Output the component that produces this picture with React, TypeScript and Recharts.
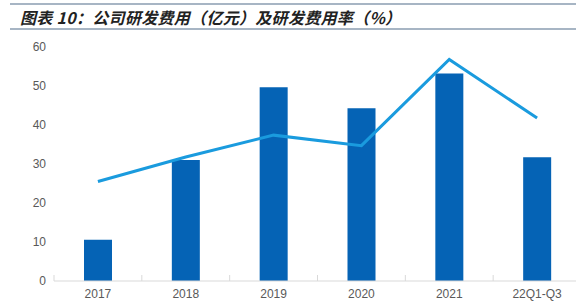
import { ComposedChart, Bar, Line, XAxis, YAxis } from "recharts";

const categories = ["2017", "2018", "2019", "2020", "2021", "22Q1-Q3"];
const rdExpense = [10.6, 31.0, 49.7, 44.3, 53.2, 31.7];
const rdRatio = [25.5, 31.8, 37.4, 34.7, 56.8, 41.8];
const yTicks = [0, 10, 20, 30, 40, 50, 60];

const data = categories.map((label, i) => ({
  label,
  expense: rdExpense[i],
  ratio: rdRatio[i],
}));

const TICK_GAP = 8;

// label plus the short separator ticks at the category boundaries
const CategoryTick = (props: any) => {
  const { x, y, payload, index } = props;
  const half = payload.offset || 0;
  const axisY = y - TICK_GAP;
  const isLast = index === categories.length - 1;
  return (
    <g>
      <line x1={x - half} x2={x - half} y1={axisY} y2={axisY - 6} stroke="#D9D9D9" />
      {isLast && <line x1={x + half} x2={x + half} y1={axisY} y2={axisY - 6} stroke="#D9D9D9" />}
      <text
        x={x}
        y={y}
        dy="0.71em"
        textAnchor="middle"
        fill="#595959"
        fontSize={12}
        fontFamily="'Liberation Sans', Arial, sans-serif"
      >
        {payload.value}
      </text>
    </g>
  );
};

const App = () => {
  return (
    <div style={{ position: "absolute", left: 0, top: 0, width: 576, height: 302, background: "#fff" }}>
      <ComposedChart
        width={576}
        height={302}
        data={data}
        margin={{ top: 47, right: -5, left: 0, bottom: 0 }}
        style={{ position: "absolute", left: 0, top: 0 }}
      >
        <XAxis
          dataKey="label"
          height={21}
          axisLine={{ stroke: "#D9D9D9" }}
          tickLine={false}
          tickSize={0}
          tickMargin={TICK_GAP}
          interval={0}
          tick={<CategoryTick />}
        />
        <YAxis
          width={54}
          domain={[0, 60]}
          ticks={yTicks}
          axisLine={false}
          tickLine={false}
          tick={{ fill: "#595959", fontSize: 12, fontFamily: "'Liberation Sans', Arial, sans-serif" }}
        />
        <Bar dataKey="expense" fill="#0563B5" barSize={28} isAnimationActive={false} />
        <Line
          type="linear"
          dataKey="ratio"
          stroke="#1A9BDE"
          strokeWidth={3}
          dot={false}
          isAnimationActive={false}
        />
      </ComposedChart>
      <div style={{ position: "absolute", left: 10, right: 0, top: 3, height: 2, background: "#A7B5C4" }} />
      <div
        style={{
          position: "absolute",
          left: 20,
          top: 7,
          fontFamily: "'Noto Sans CJK SC', sans-serif",
          fontSize: 16,
          fontWeight: 700,
          fontStyle: "italic",
          letterSpacing: 0.3,
          lineHeight: "20px",
          color: "#222",
          whiteSpace: "nowrap",
        }}
      >
        图表 10：公司研发费用（亿元）及研发费用率（%）
      </div>
      <div style={{ position: "absolute", left: 10, right: 0, top: 28, height: 2, background: "#A7B5C4" }} />
    </div>
  );
};

export default App;
